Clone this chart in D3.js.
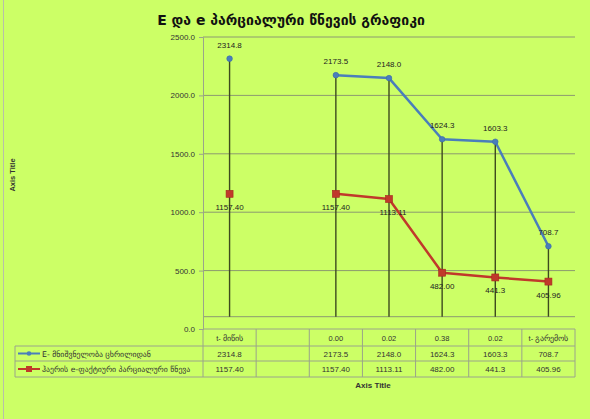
<!DOCTYPE html>
<html><head><meta charset="utf-8">
<script src="https://cdn.jsdelivr.net/npm/d3@7/dist/d3.min.js"></script>
<style>body{margin:0;background:#fff}svg{display:block}</style>
</head><body>
<svg id="c" width="590" height="419"></svg>
<script>
const title = "E და e პარციალური წნევის გრაფიკი";
const categories = ["t- მიწის", "", "0.00", "0.02", "0.38", "0.02", "t- გარემოს"];
const seriesNames = ["E- მნიშვნელობა ცხრილიდან", "ჰაერის e-ფაქტიური პარციალური წნევა"];
const seriesE = [2314.8, null, 2173.5, 2148.0, 1624.3, 1603.3, 708.7];
const seriesELabels = ["2314.8", "", "2173.5", "2148.0", "1624.3", "1603.3", "708.7"];
const seriese = [1157.40, null, 1157.40, 1113.11, 482.00, 441.3, 405.96];
const serieseLabels = ["1157.40", "", "1157.40", "1113.11", "482.00", "441.3", "405.96"];
const yTicks = [0, 500, 1000, 1500, 2000, 2500];

const svg = d3.select("#c");
const W = 590, H = 419;
const bg = "#ccff66";
svg.append("rect").attr("width", W).attr("height", H).attr("fill", bg);
svg.append("line").attr("x1", 3.5).attr("x2", 3.5).attr("y1", 0).attr("y2", H).attr("stroke", "#b8c0a8");

const L = 203, R = 575, T = 37, B = 329;
const x = d3.scaleBand().domain(d3.range(categories.length)).range([L, R]);
const y = d3.scaleLinear().domain([0, 2500]).range([B, T]);
const cx = i => x(i) + x.bandwidth() / 2;
const font = "'Liberation Sans', Arial, sans-serif";

// title
svg.append("text").attr("x", 291).attr("y", 25).attr("text-anchor", "middle")
  .attr("font-family", "'DejaVu Sans', 'Noto Sans', sans-serif").attr("font-weight", "bold")
  .attr("font-size", 14).attr("fill", "#111").text(title);

// gridlines
svg.append("g").selectAll("line").data(yTicks.filter(d => d > 0)).join("line")
  .attr("x1", L).attr("x2", R).attr("y1", d => y(d)).attr("y2", d => y(d))
  .attr("stroke", "#8c9a70").attr("stroke-width", 1);
const dropBase = 316.7;
svg.append("line").attr("x1", L).attr("x2", R).attr("y1", dropBase).attr("y2", dropBase)
  .attr("stroke", "#8c9a70");

// y axis
const yAxis = d3.axisLeft(y).tickValues(yTicks).tickFormat(d3.format(".1f")).tickSize(4).tickPadding(4);
const ga = svg.append("g").attr("transform", `translate(${L},0)`).call(yAxis);
ga.select(".domain").attr("stroke", "#9aa48a");
ga.selectAll(".tick line").attr("stroke", "#9aa48a");
ga.selectAll("text").attr("font-family", font).attr("font-size", 8).attr("fill", "#333");

svg.append("text").attr("transform", "translate(15,175) rotate(-90)").attr("text-anchor", "middle")
  .attr("font-family", font).attr("font-size", 7.5).attr("font-weight", "bold").attr("fill", "#333").text("Axis Title");

// drop lines
const idx = d3.range(categories.length).filter(i => seriesE[i] != null);
svg.append("g").selectAll("line").data(idx).join("line")
  .attr("x1", cx).attr("x2", cx).attr("y1", i => y(Math.max(seriesE[i], seriese[i]))).attr("y2", dropBase)
  .attr("stroke", "#3d4a1e").attr("stroke-width", 1.4);

const blue = "#4a7ebb", red = "#c0392b";
const lineG = d3.line().defined(d => d[1] != null).x(d => cx(d[0])).y(d => y(d[1]));
svg.append("path").attr("d", lineG(seriesE.map((v, i) => [i, v]))).attr("fill", "none")
  .attr("stroke", blue).attr("stroke-width", 2.5).attr("stroke-linejoin", "round");
svg.append("path").attr("d", lineG(seriese.map((v, i) => [i, v]))).attr("fill", "none")
  .attr("stroke", red).attr("stroke-width", 2.5).attr("stroke-linejoin", "round");

svg.append("g").selectAll("circle").data(idx).join("circle")
  .attr("cx", cx).attr("cy", i => y(seriesE[i])).attr("r", 2.8).attr("fill", blue).attr("stroke", "#3a6aa8").attr("stroke-width", 0.6);
svg.append("g").selectAll("rect").data(idx).join("rect")
  .attr("x", i => cx(i) - 3.5).attr("y", i => y(seriese[i]) - 3.5).attr("width", 7).attr("height", 7)
  .attr("fill", red).attr("stroke", "#a52a1e").attr("stroke-width", 0.6);

svg.append("g").selectAll("text").data(idx).join("text")
  .attr("x", cx).attr("y", i => y(seriesE[i]) - 11).attr("text-anchor", "middle")
  .attr("font-family", font).attr("font-size", 8).attr("fill", "#222").text(i => seriesELabels[i]);
svg.append("g").selectAll("text").data(idx).join("text")
  .attr("x", i => cx(i) + (i === 3 ? 4 : 0)).attr("y", i => y(seriese[i]) + 16).attr("text-anchor", "middle")
  .attr("font-family", font).attr("font-size", 8).attr("fill", "#222").text(i => serieseLabels[i]);

// data table
const rowY = [329, 346, 361, 377];
const LL = 15;
const tg = svg.append("g");
const gc = "#9aa48a";
tg.append("line").attr("x1", L).attr("x2", R).attr("y1", rowY[0]).attr("y2", rowY[0]).attr("stroke", gc);
[1, 2, 3].forEach(k => tg.append("line").attr("x1", LL).attr("x2", R).attr("y1", rowY[k]).attr("y2", rowY[k]).attr("stroke", gc));
const vx = d3.range(categories.length + 1).map(i => i < categories.length ? x(i) : R);
tg.selectAll("line.v").data(vx).join("line").attr("class", "v")
  .attr("x1", d => d).attr("x2", d => d).attr("y1", rowY[0]).attr("y2", rowY[3]).attr("stroke", gc);
tg.append("line").attr("x1", LL).attr("x2", LL).attr("y1", rowY[1]).attr("y2", rowY[3]).attr("stroke", gc);

const rows = [categories, seriesELabels, serieseLabels];
rows.forEach((r, k) => {
  tg.append("g").selectAll("text").data(r).join("text")
    .attr("x", (d, i) => cx(i)).attr("y", (rowY[k] + rowY[k + 1]) / 2 + 3)
    .attr("text-anchor", "middle").attr("font-family", font).attr("font-size", k === 0 ? 7.5 : 8)
    .attr("fill", "#333").text(d => d);
});
[[blue, "circle"], [red, "square"]].forEach(([col, shp], k) => {
  const yy = (rowY[k + 1] + rowY[k + 2]) / 2;
  tg.append("line").attr("x1", LL + 3).attr("x2", LL + 25).attr("y1", yy).attr("y2", yy).attr("stroke", col).attr("stroke-width", 2);
  if (shp === "circle") tg.append("circle").attr("cx", LL + 14).attr("cy", yy).attr("r", 2.3).attr("fill", col);
  else tg.append("rect").attr("x", LL + 11).attr("y", yy - 3).attr("width", 6).attr("height", 6).attr("fill", col);
  tg.append("text").attr("x", LL + 27).attr("y", yy + 3).attr("font-family", "'DejaVu Sans', sans-serif")
    .attr("font-size", 7.8).attr("fill", "#333").text(seriesNames[k]);
});

svg.append("text").attr("x", 373).attr("y", 388).attr("text-anchor", "middle")
  .attr("font-family", font).attr("font-size", 8).attr("font-weight", "bold").attr("fill", "#333").text("Axis Title");
</script>
</body></html>
